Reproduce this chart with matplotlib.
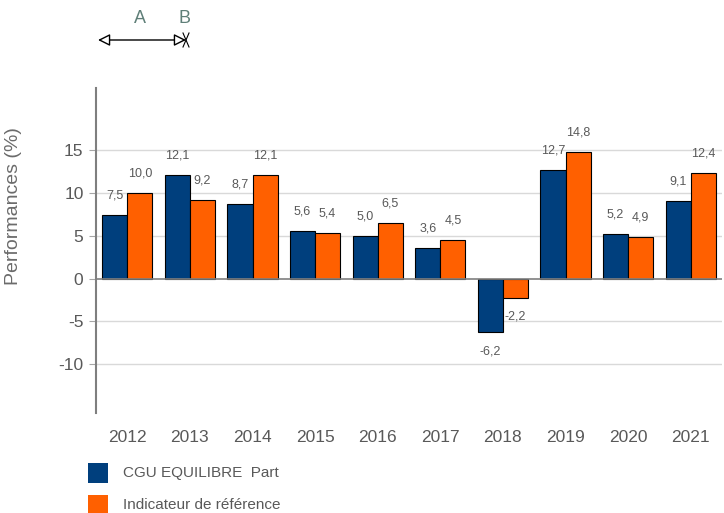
import matplotlib
matplotlib.use("Agg")
import matplotlib.pyplot as plt
from matplotlib.patches import Rectangle

plt.rcParams['font.family'] = ['Liberation Sans', 'DejaVu Sans']
plt.rcParams['axes.unicode_minus'] = False

years = ['2012', '2013', '2014', '2015', '2016', '2017', '2018', '2019', '2020', '2021']
fonds = [7.5, 12.1, 8.7, 5.6, 5.0, 3.6, -6.2, 12.7, 5.2, 9.1]
indice = [10.0, 9.2, 12.1, 5.4, 6.5, 4.5, -2.2, 14.8, 4.9, 12.4]
noms = ['CGU EQUILIBRE  Part', 'Indicateur de référence']

navy = '#003f7d'
orange = '#ff6000'
gris = '#595959'

fig = plt.figure(figsize=(7.24, 5.13), dpi=100)
ax = fig.add_axes([96/724, 1-413/513, 626/724, 325/513])

x = list(range(len(years)))
w = 0.4
ax.bar([i - w/2 for i in x], fonds, w, color=navy, edgecolor='black', linewidth=0.8, zorder=3)
ax.bar([i + w/2 for i in x], indice, w, color=orange, edgecolor='black', linewidth=0.8, zorder=3)

def fmt(v):
    return f'{v:.1f}'.replace('.', ',')

for i in x:
    for dx, v in ((-w/2, fonds[i]), (w/2, indice[i])):
        off = 14 if v >= 0 else -14
        ax.annotate(fmt(v), (i + dx, v), xytext=(0, off), textcoords='offset points',
                    ha='center', va='center', fontsize=9, color=gris)

ax.set_xlim(-0.5, 9.5)
ax.set_ylim(-15.7, 22.3)
ax.set_yticks([15, 10, 5, 0, -5, -10])
ax.set_xticks(x)
ax.set_xticklabels(years)
ax.tick_params(axis='x', length=0, pad=12, labelsize=12.5, labelcolor=gris)
ax.tick_params(axis='y', length=5, color='#a6a6a6', labelsize=12.5, labelcolor=gris, pad=4)

for yv in [15, 10, 5, -5, -10]:
    ax.axhline(yv, color='#d9d9d9', linewidth=1, zorder=1)
ax.axhline(0, color='#7f7f7f', linewidth=1.2, zorder=4)

for s in ['top', 'right', 'bottom']:
    ax.spines[s].set_visible(False)
ax.spines['left'].set_color('#7f7f7f')
ax.spines['left'].set_linewidth(1.5)

ax.set_ylabel('Performances (%)', fontsize=14, color='#6b6b6b')
ax.yaxis.set_label_coords(-0.118, 0.637)

# legende
for k, (c, n) in enumerate(zip([navy, orange], noms)):
    y0 = 1 - (483 + 32*k)/513
    fig.patches.append(Rectangle((88/724, y0), 20/724, 20/513, transform=fig.transFigure,
                                 facecolor=c, edgecolor='none'))
    fig.text(123/724, y0 + 10/513, n, fontsize=11, color=gris, va='center')

# fleche A / B en haut
fig.text(140/724, 1-19/513, 'A', fontsize=13, color='#5f7f78', ha='center', va='center')
fig.text(185/724, 1-19/513, 'B', fontsize=13, color='#5f7f78', ha='center', va='center')
ax.annotate('', xy=(98/724, 1-40/513), xytext=(186/724, 1-40/513), xycoords='figure fraction',
            textcoords='figure fraction',
            arrowprops=dict(arrowstyle='<|-|>', fc='white', ec='black', lw=1, mutation_scale=18,
                            shrinkA=0, shrinkB=0))
fig.lines.append(plt.Line2D([183/724, 189/724], [1-33/513, 1-47/513], transform=fig.transFigure, color='black', lw=0.8))
fig.lines.append(plt.Line2D([183/724, 189/724], [1-47/513, 1-33/513], transform=fig.transFigure, color='black', lw=0.8))

fig.savefig('out.png', dpi=100)
